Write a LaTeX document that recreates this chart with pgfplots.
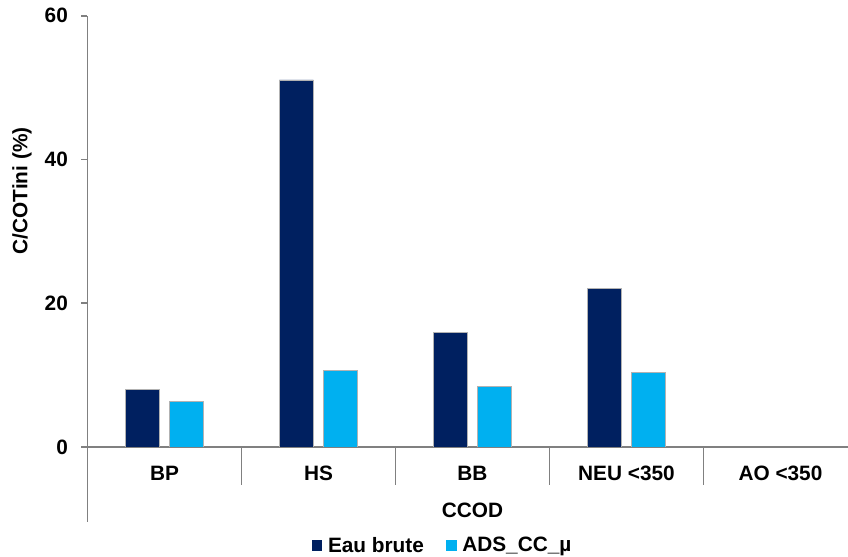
\documentclass[border=0pt]{standalone}
\usepackage{pgfplots}
\pgfplotsset{compat=1.18}
\usepackage{fontspec}
\setmainfont{Liberation Sans}
\definecolor{darkb}{HTML}{002060}
\definecolor{lightb}{HTML}{00B0F0}
\definecolor{axgray}{HTML}{808080}
\newcommand\ff{\fontsize{10.4pt}{12.5pt}\selectfont\bfseries}
\begin{document}
\begin{tikzpicture}
\begin{axis}[
  name=ax,
  at={(0,0)}, anchor=south west,
  scale only axis, width=385pt, height=215.6pt,
  xmin=-0.5, xmax=4.5, ymin=0, ymax=60,
  axis x line=bottom, axis y line=left,
  axis line style={-, axgray, line width=0.8pt},
  ybar=5pt, bar width=17pt,
  xtick={0,1,2,3,4},
  xticklabels={BP,HS,BB,NEU <350,AO <350},
  minor xtick={0.5,1.5,2.5,3.5},
  ytick={0,20,40,60},
  tick align=outside,
  major tick length=3pt, minor tick length=19pt,
  major x tick style={draw=none},
  tick style={axgray, line width=0.8pt},
  /pgf/number format/assume math mode=true,
  every tick label/.append style={font=\ff},
  yticklabel style={xshift=-3.3pt},
  xticklabel style={yshift=-3pt},
  xlabel={CCOD},
  xlabel style={at={(axis description cs:0.5,0)}, yshift=-31.5pt, anchor=center, font=\ff},
  ylabel={C/COTini (\%)},
  ylabel style={at={(axis description cs:-0.085,0.594)}, anchor=center, font=\ff},
  legend columns=2,
  legend style={at={(axis description cs:0.4617,-0.2296)}, anchor=center, draw=none, font=\ff,
    /tikz/every even column/.append style={column sep=9.5pt}, nodes={inner xsep=1.5pt}},
]
\addplot[fill=darkb, draw=gray!60, line width=0.4pt,
  legend image code/.code={\fill[darkb] (0pt,-2.1pt) rectangle (4.8pt,2.7pt); \path (6.3pt,0pt);}]
  coordinates {(0,8.05) (1,51.07) (2,15.9) (3,22.05)};
\addlegendentry{Eau brute}
\addplot[fill=lightb, draw=gray!60, line width=0.4pt,
  legend image code/.code={\fill[lightb] (0pt,-2.1pt) rectangle (4.8pt,2.7pt); \path (6.3pt,0pt);}]
  coordinates {(0,6.28) (1,10.6) (2,8.42) (3,10.37)};
\addlegendentry{ADS\_CC\_µ}
\end{axis}
\draw[axgray, line width=0.8pt] (0,0) -- (0,-37.5pt);
\pgfresetboundingbox
\path (-43.75pt,-55pt) rectangle (380.25pt,223.5pt);
\end{tikzpicture}
\end{document}
